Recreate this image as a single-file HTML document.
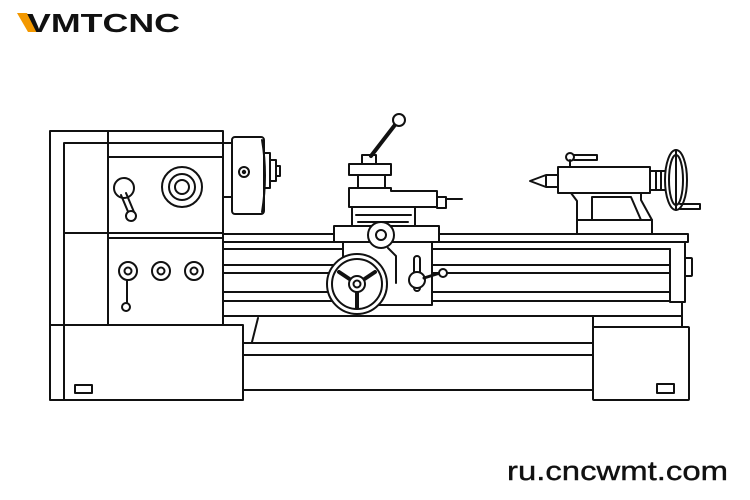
<!DOCTYPE html>
<html><head><meta charset="utf-8"><style>
html,body{margin:0;padding:0;background:#fff;}
svg{display:block}
</style></head><body>
<svg width="750" height="500" viewBox="0 0 750 500" xmlns="http://www.w3.org/2000/svg">
<rect width="750" height="500" fill="#fff"/>
<polygon points="17,13 27,13 38,32 28,32" fill="#f39800"/>
<text x="27" y="32" font-family="Liberation Sans, sans-serif" font-weight="bold" font-size="26" fill="#111" textLength="153" lengthAdjust="spacingAndGlyphs">VMTCNC</text>
<text x="507" y="480" font-family="Liberation Sans, sans-serif" font-size="27" fill="#111" stroke="#111" stroke-width="0.4" textLength="221" lengthAdjust="spacingAndGlyphs">ru.cncwmt.com</text>

<g fill="none" stroke="#111" stroke-width="2" stroke-linejoin="round" stroke-linecap="round">
<path d="M243 343 H593 M243 355 H593 M243 390 H593"/>
<path d="M258 318 L252 342"/>
<rect x="223" y="234" width="465" height="8" fill="#fff"/>
<path d="M223 249 H670 M223 265 H670 M223 273 H670 M223 292 H670 M223 301 H670 M223 316 H682"/>
<path d="M670 249 V302 H685 V242 M682 302 V327 M593 316 V327"/>
<rect x="685" y="258" width="7" height="18" rx="1"/>
<rect x="593" y="327" width="96" height="73" rx="1" fill="#fff"/>
<rect x="657" y="384" width="17" height="9"/>
<path d="M50 131 H223 V325 M50 131 V400 H243 V325 H50 M64 143 H223 M64 143 V400 M108 131 V325 M108 157 H223 M64 233 H223 M108 238 H223"/>
<rect x="75" y="385" width="17" height="8"/>
<circle cx="124" cy="188" r="10"/>
<path d="M121 195 L129 214 L134 212 L126 193"/>
<circle cx="131" cy="216" r="5" fill="#fff"/>
<circle cx="182" cy="187" r="20"/><circle cx="182" cy="187" r="13"/><circle cx="182" cy="187" r="7"/>
<circle cx="128" cy="271" r="9"/><circle cx="128" cy="271" r="3.5"/>
<circle cx="161" cy="271" r="9"/><circle cx="161" cy="271" r="3.5"/>
<circle cx="194" cy="271" r="9"/><circle cx="194" cy="271" r="3.5"/>
<path d="M127 280 V303"/><circle cx="126" cy="307" r="4"/>
<rect x="223" y="143" width="9" height="54"/>
<rect x="232" y="137" width="32" height="77" rx="3" fill="#fff"/>
<path d="M264 153 H270 V188 H264 M270 160 H276 V181 H270 M276 166 H280 V176 H276"/>
<path d="M262 140 Q268 175 262 212"/>
<circle cx="244" cy="172" r="5"/><circle cx="244" cy="172" r="1.2" fill="#111"/>
<path d="M371 156 L398 121" stroke-width="4"/>
<circle cx="399" cy="120" r="6" fill="#fff"/>
<rect x="362" y="155" width="14" height="9"/>
<rect x="349" y="164" width="42" height="11"/>
<rect x="358" y="175" width="27" height="13"/>
<path d="M349 188 H391 V191 H437 V207 H349 Z"/>
<path d="M437 197 H446 V208 H437 M446 199 H462"/>
<rect x="352" y="207" width="63" height="19"/>
<path d="M356 215 H411 M358 222 H408"/>
<rect x="343" y="240" width="89" height="65" fill="#fff"/>
<rect x="334" y="226" width="105" height="16" fill="#fff"/>
<path d="M388 248 L396 256 V283"/>
<circle cx="381" cy="235" r="13" fill="#fff"/><circle cx="381" cy="235" r="5"/>
<circle cx="357" cy="284" r="30" fill="#fff"/><circle cx="357" cy="284" r="25"/>
<path d="M357 284 L339 272 M357 284 L375 272 M357 284 V308" stroke-width="4"/>
<circle cx="357" cy="284" r="8" fill="#fff"/><circle cx="357" cy="284" r="3.5"/>
<rect x="414" y="256" width="6" height="35" rx="3"/>
<circle cx="417" cy="280" r="8" fill="#fff"/>
<path d="M424 278 L440 273" stroke-width="3"/>
<circle cx="443" cy="273" r="4" fill="#fff"/>
<path d="M571 193 L577 201 V220 M641 193 V200 L652 220"/>
<path d="M592 220 V197 H631 L641 220"/>
<rect x="577" y="220" width="75" height="14" fill="#fff"/>
<rect x="558" y="167" width="92" height="26" fill="#fff"/>
<path d="M558 175 H546 L530 181 L546 187 H558 M546 175 V187"/>
<path d="M570 160 V167"/><circle cx="570" cy="157" r="4"/>
<path d="M574 155 H597 V160 H574"/>
<rect x="650" y="171" width="16" height="19"/>
<path d="M656 171 V190 M661 171 V190"/>
<ellipse cx="676" cy="180" rx="11" ry="30" fill="#fff"/>
<ellipse cx="676" cy="180" rx="7" ry="25"/>
<path d="M676 150 V210 M680 204 H700 V209 H680"/>
</g>
</svg>
</body></html>
